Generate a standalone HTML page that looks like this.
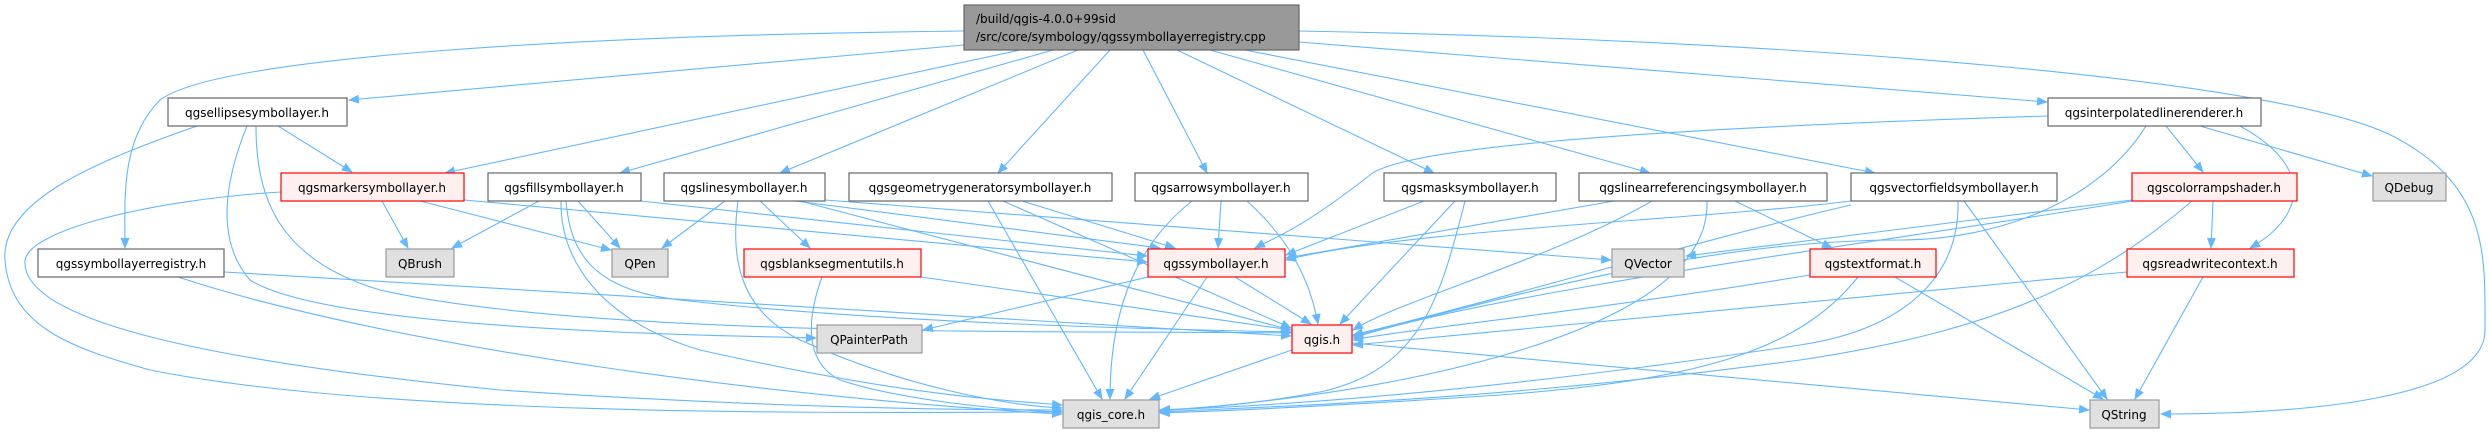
<!DOCTYPE html>
<html><head><meta charset="utf-8"><style>
html,body{margin:0;padding:0;background:#fff;}
svg{display:block;}
text{font-family:"DejaVu Sans","Liberation Sans",sans-serif;font-size:12px;fill:#000;}
</style></head><body>
<svg width="2489" height="434" viewBox="0 0 2489 434" xmlns="http://www.w3.org/2000/svg">
<defs>
<marker id="a" markerWidth="11" markerHeight="9" refX="10" refY="4.5" orient="auto" markerUnits="userSpaceOnUse">
<path d="M0,0 L11,4.5 L0,9 Z" fill="#63b8ff"/>
</marker>
</defs>
<g fill="none" stroke="#63b8ff" stroke-width="1.1" marker-end="url(#a)">
<!-- from main -->
<path d="M964,31 C600,35 220,55 160,100 C120,140 125,200 125,248"/>
<path d="M964,45 L349,100"/>
<path d="M1020,50 L445,173"/>
<path d="M1053,50 L620,173"/>
<path d="M1078,50 L780,173"/>
<path d="M1110,50 L998,173"/>
<path d="M1143,50 L1207,173"/>
<path d="M1177,50 L1434,173"/>
<path d="M1210,50 L1650,173"/>
<path d="M1245,50 L1875,173"/>
<path d="M1299,42 L2047,102"/>
<path d="M1299,31 C1800,40 2300,80 2400,140 C2490,190 2485,260 2485,330 C2485,400 2300,414 2161,414"/>
<!-- ellipse -->
<path d="M278,126 L352,172"/>
<path d="M197,126 C100,160 0,200 5,260 C10,330 80,350 150,370 C400,420 900,412 1062,412"/>
<path d="M247,126 C225,180 215,240 250,280 C330,330 700,335 816,338"/>
<path d="M256,126 C256,200 280,260 380,290 C600,340 1100,330 1291,333"/>
<!-- marker -->
<path d="M382,201 L408,248"/>
<path d="M420,201 L611,250"/>
<path d="M464,200 L1147,262"/>
<path d="M281,192 C150,200 30,230 25,260 C20,320 200,360 500,390 C800,410 1000,410 1062,410"/>
<!-- fill -->
<path d="M539,201 L452,248"/>
<path d="M578,201 L620,248"/>
<path d="M641,201 L1147,256"/>
<path d="M566,201 C570,250 590,290 680,300 C900,325 1200,330 1291,332"/>
<path d="M561,201 C560,260 600,320 700,350 C900,395 1000,400 1062,405"/>
<!-- line -->
<path d="M725,201 L662,248"/>
<path d="M760,201 L810,248"/>
<path d="M795,201 L1160,248"/>
<path d="M825,200 L1611,260"/>
<path d="M800,201 L1291,330"/>
<path d="M738,201 C730,260 740,310 800,340 C900,385 1000,405 1062,408"/>
<!-- blanksegment -->
<path d="M921,277 L1291,330"/>
<path d="M822,277 C810,310 800,360 840,380 C900,400 1000,410 1062,412"/>
<!-- geometry -->
<path d="M1022,201 L1175,248"/>
<path d="M1003,201 L1291,328"/>
<path d="M988,201 L1102,399"/>
<!-- arrow -->
<path d="M1221,201 L1218,248"/>
<path d="M1247,201 C1290,240 1310,280 1318,324"/>
<path d="M1192,201 C1130,250 1110,320 1110,399"/>
<!-- mask -->
<path d="M1424,201 L1286,255"/>
<path d="M1455,201 L1340,324"/>
<path d="M1465,201 C1440,300 1420,370 1320,392 C1250,405 1200,408 1160,410"/>
<!-- linearref -->
<path d="M1614,201 L1286,258"/>
<path d="M1652,201 C1550,260 1400,300 1353,330"/>
<path d="M1735,201 L1832,248"/>
<path d="M1707,201 C1710,280 1600,340 1400,380 C1300,400 1200,408 1160,411"/>
<!-- vectorfield -->
<path d="M1851,201 C1700,220 1400,230 1286,260"/>
<path d="M1851,205 C1700,240 1500,300 1353,335"/>
<path d="M1958,201 C1960,280 1900,330 1800,345 C1500,390 1300,405 1160,410"/>
<path d="M1964,201 L2107,399"/>
<!-- interpolated -->
<path d="M2048,116 C1600,130 1400,150 1370,175 C1300,230 1270,240 1255,248"/>
<path d="M2166,126 L2203,172"/>
<path d="M2200,126 L2372,176"/>
<path d="M2240,126 C2320,170 2300,220 2250,248"/>
<path d="M2146,126 C2100,200 2000,240 1900,240 C1700,240 1500,300 1353,336"/>
<!-- colorramp -->
<path d="M2132,200 L1686,256"/>
<path d="M2132,201 C1900,240 1500,290 1353,338"/>
<path d="M2213,201 L2211,248"/>
<path d="M2192,201 C2100,280 2000,330 1800,360 C1500,400 1300,405 1160,412"/>
<!-- textformat -->
<path d="M1810,275 C1600,310 1400,330 1353,340"/>
<path d="M1858,277 C1800,350 1700,380 1500,395 C1350,405 1250,410 1160,413"/>
<path d="M1895,277 L2103,399"/>
<!-- readwrite -->
<path d="M2127,272 L1353,345"/>
<path d="M2203,277 L2135,399"/>
<!-- qgssymbollayer -->
<path d="M1148,277 L923,330"/>
<path d="M1235,277 L1311,324"/>
<path d="M1207,277 L1125,399"/>
<!-- qgis.h -->
<path d="M1292,350 L1150,399"/>
<path d="M1352,343 L2089,410"/>
<!-- registry -->
<path d="M224,272 L1291,336"/>
<path d="M178,277 C400,350 800,400 1062,414"/>
</g>
<g stroke-width="1.2">
<!-- main -->
<rect x="964" y="5" width="335" height="45" fill="#999999" stroke="#666"/>
<text x="976" y="23">/build/qgis-4.0.0+99sid</text>
<text x="976" y="41">/src/core/symbology/qgssymbollayerregistry.cpp</text>
<!-- white nodes -->
<g fill="#fff" stroke="#666">
<rect x="168" y="98" width="179" height="28"/>
<rect x="488" y="173" width="153" height="28"/>
<rect x="664" y="173" width="161" height="28"/>
<rect x="849" y="173" width="263" height="28"/>
<rect x="1135" y="173" width="173" height="28"/>
<rect x="1384" y="173" width="172" height="28"/>
<rect x="1579" y="173" width="248" height="28"/>
<rect x="1851" y="173" width="206" height="28"/>
<rect x="2048" y="98" width="213" height="28"/>
<rect x="38" y="249" width="186" height="28"/>
</g>
<g fill="#fff0f0" stroke="#ff0000">
<rect x="281" y="173" width="183" height="28"/>
<rect x="744" y="249" width="177" height="28"/>
<rect x="1148" y="249" width="137" height="28"/>
<rect x="1292" y="325" width="60" height="28"/>
<rect x="1810" y="249" width="126" height="28"/>
<rect x="2132" y="173" width="165" height="28"/>
<rect x="2127" y="249" width="167" height="28"/>
</g>
<g fill="#e0e0e0" stroke="#999">
<rect x="386" y="249" width="68" height="28"/>
<rect x="612" y="249" width="56" height="28"/>
<rect x="817" y="325" width="105" height="28"/>
<rect x="1612" y="249" width="72" height="28"/>
<rect x="1063" y="400" width="96" height="28"/>
<rect x="2090" y="400" width="69" height="28"/>
<rect x="2373" y="173" width="73" height="28"/>
</g>
</g>
<g text-anchor="middle">
<text x="257" y="117">qgsellipsesymbollayer.h</text>
<text x="372" y="192">qgsmarkersymbollayer.h</text>
<text x="564" y="192">qgsfillsymbollayer.h</text>
<text x="744" y="192">qgslinesymbollayer.h</text>
<text x="980" y="192">qgsgeometrygeneratorsymbollayer.h</text>
<text x="1221" y="192">qgsarrowsymbollayer.h</text>
<text x="1470" y="192">qgsmasksymbollayer.h</text>
<text x="1703" y="192">qgslinearreferencingsymbollayer.h</text>
<text x="1954" y="192">qgsvectorfieldsymbollayer.h</text>
<text x="2154" y="117">qgsinterpolatedlinerenderer.h</text>
<text x="2214" y="192">qgscolorrampshader.h</text>
<text x="2409" y="192">QDebug</text>
<text x="131" y="268">qgssymbollayerregistry.h</text>
<text x="420" y="268">QBrush</text>
<text x="640" y="268">QPen</text>
<text x="832" y="268">qgsblanksegmentutils.h</text>
<text x="1216" y="268">qgssymbollayer.h</text>
<text x="1648" y="268">QVector</text>
<text x="1873" y="268">qgstextformat.h</text>
<text x="2210" y="268">qgsreadwritecontext.h</text>
<text x="869" y="344">QPainterPath</text>
<text x="1322" y="344">qgis.h</text>
<text x="1111" y="419">qgis_core.h</text>
<text x="2124" y="419">QString</text>
</g>
</svg>
</body></html>
